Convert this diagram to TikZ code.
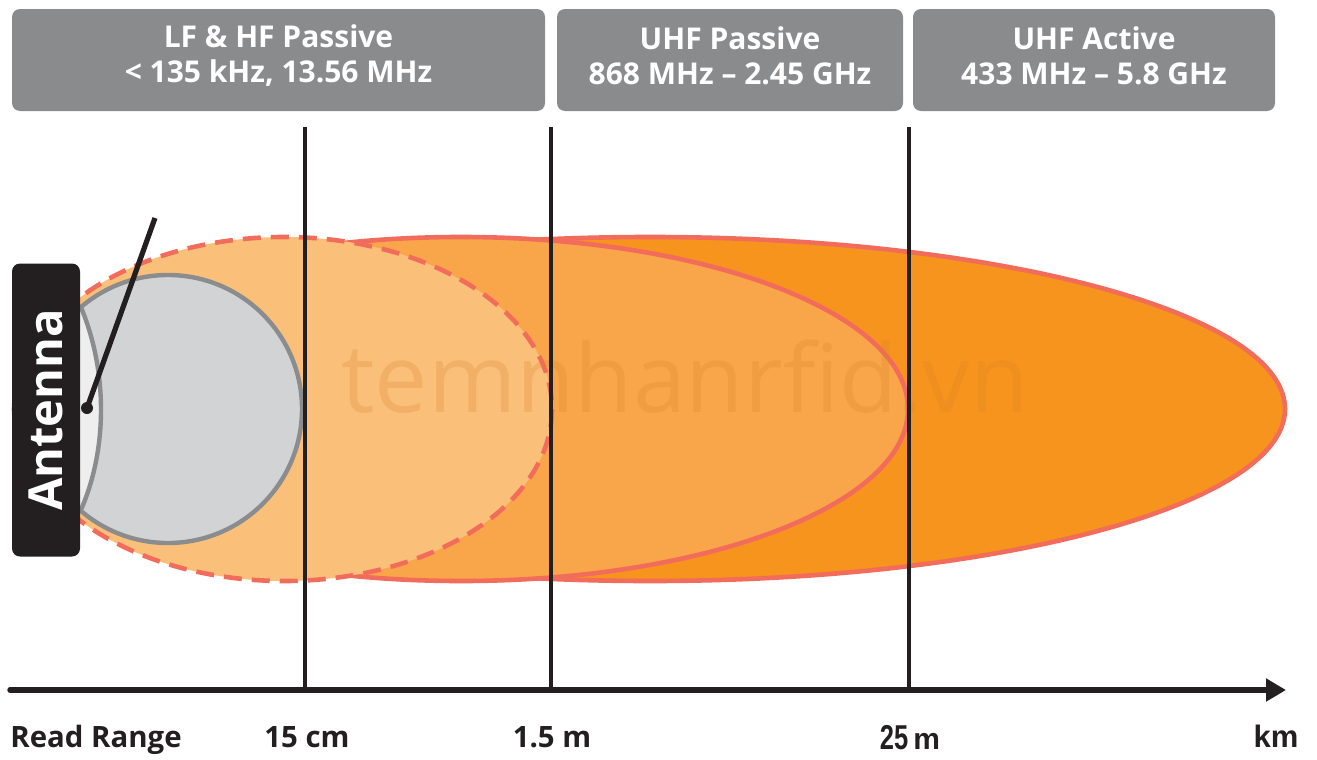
\documentclass[tikz,border=0pt]{standalone}
\usepackage{fontspec}
\setmainfont{Open Sans}
\newfontfamily\arialfont{Liberation Sans}
\usetikzlibrary{arrows.meta}
\definecolor{boxgray}{HTML}{8A8B8D}
\definecolor{uhfa}{HTML}{F7941D}
\definecolor{uhfp}{HTML}{F9A64A}
\definecolor{lfhf}{HTML}{FAC07A}
\definecolor{edge}{HTML}{F26C5B}
\definecolor{circfill}{HTML}{D1D3D4}
\definecolor{circedge}{HTML}{8A8C8E}
\definecolor{lensfill}{HTML}{EEEEEF}
\definecolor{ink}{HTML}{231F20}
\definecolor{wm}{HTML}{D9822A}
\tikzset{
  bandbox/.style={fill=boxgray, rounded corners=4pt, minimum height=51pt, inner sep=0pt},
  bandtext/.style={text=white, font=\bfseries\fontsize{15}{17.5}\selectfont, align=center, inner sep=0pt},
  lobe/.style={draw=edge, line width=2.3pt},
  marker/.style={draw=ink, line width=2.4pt},
  axislabel/.style={font=\bfseries\fontsize{14.7}{16}\selectfont, text=ink, inner sep=0pt, anchor=base},
  antbox/.style={fill=ink, rounded corners=4pt, text=white, rotate=90,
    minimum width=146.5pt, minimum height=34pt, inner sep=0pt,
    font=\bfseries\fontsize{23.5}{24}\selectfont}
}
\begin{document}
\begin{tikzpicture}[x=0.5pt,y=-0.5pt]
\useasboundingbox (0,0) rectangle (1317,760);
% lobes
\filldraw[lobe, fill=uhfa] (650,409) ellipse [x radius=635, y radius=172];
\filldraw[lobe, fill=uhfp] (461,409) ellipse [x radius=447, y radius=172];
\filldraw[lobe, fill=lfhf, dash pattern=on 9pt off 5pt] (284,409) ellipse [x radius=268, y radius=172];
% watermark
\node[text=wm, opacity=0.25, anchor=base, inner sep=0pt, font=\fontsize{47.5}{48}\selectfont] (wmark) at (685,412) {temnhanrfid.vn};
% near field circle
\filldraw[fill=circfill, draw=circedge, line width=2.2pt] (168,409) circle [radius=134];
\fill[lensfill] (80,305) .. controls (108,370) and (108,450) .. (80,512) -- cycle;
\draw[draw=circedge, line width=2.2pt] (80,305) .. controls (108,370) and (108,450) .. (80,512);
% antenna
\node[antbox] (ant) at (46,410) {Antenna};
\coordinate (feed) at (87,408);
\coordinate (tip) at (155,218);
\draw[ink, line width=2.6pt] (feed) -- (tip);
\fill[ink] (feed) circle [radius=6];
% markers
\coordinate (m1t) at (305,127); \coordinate (m1b) at (305,690);
\coordinate (m2t) at (551,127); \coordinate (m2b) at (551,690);
\coordinate (m3t) at (909,127); \coordinate (m3b) at (909,690);
\draw[marker] (m1t) -- (m1b);
\draw[marker] (m2t) -- (m2b);
\draw[marker] (m3t) -- (m3b);
% axis
\coordinate (ax0) at (10,690);
\coordinate (ax1) at (1286,690);
\draw[ink, line width=2.7pt, line cap=round, -{Triangle[length=10pt,width=11pt]}] (ax0) -- (ax1);
% band boxes
\node[bandbox, minimum width=266.5pt] (b1) at (278.5,60) {};
\node[bandbox, minimum width=173pt] (b2) at (730,60) {};
\node[bandbox, minimum width=181pt] (b3) at (1094,60) {};
\node[bandtext] (b1t) at (278.5,56) {LF \& HF Passive\\< 135 kHz, 13.56 MHz};
\node[bandtext] (b2t) at (730,56) {UHF Passive\\868 MHz – 2.45 GHz};
\node[bandtext] (b3t) at (1094,56) {UHF Active\\433 MHz – 5.8 GHz};
% axis labels
\node[axislabel, anchor=base west] (rr) at (10,747) {Read Range};
\node[axislabel] (l1) at (307,747) {15 cm};
\node[axislabel] (l2) at (552,747) {1.5 m};
\node[axislabel, font=\arialfont\bfseries\fontsize{15}{16}\selectfont] (l3) at (910,749) {\scalebox{0.85}[1.15]{25}\,m};
\node[axislabel, font=\arialfont\bfseries\fontsize{15.5}{16}\selectfont] (l4) at (1276,747) {km};
\end{tikzpicture}
\end{document}
